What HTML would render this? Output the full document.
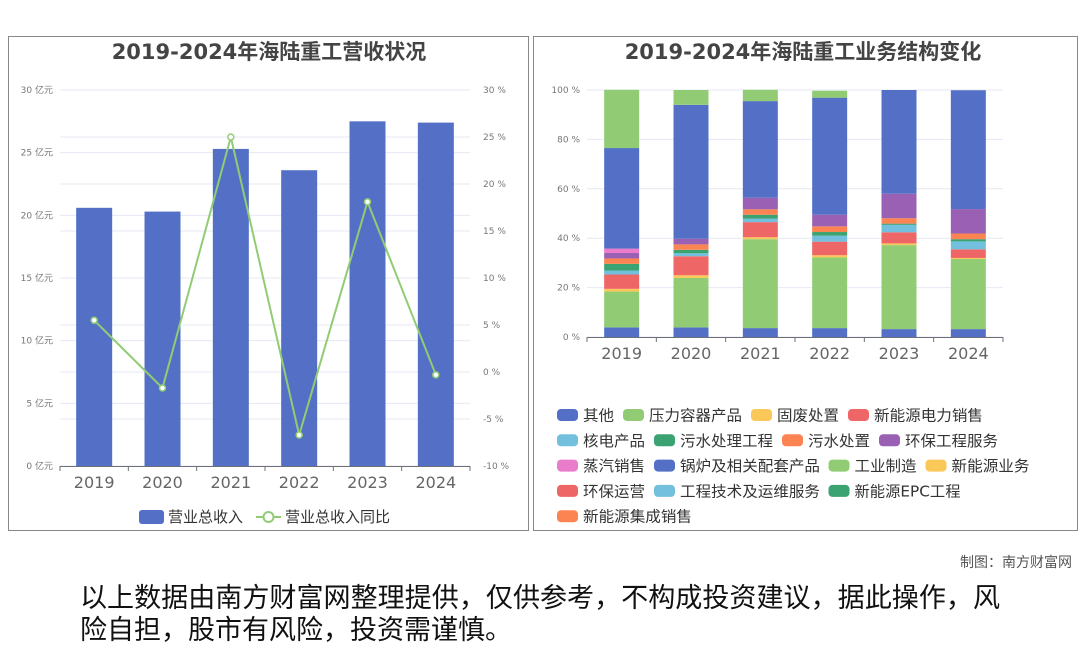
<!DOCTYPE html>
<html><head><meta charset="utf-8">
<style>
html,body{margin:0;padding:0;background:#fff;}
body{width:1080px;height:646px;overflow:hidden;font-family:"DejaVu Sans","Noto Sans CJK SC",sans-serif;}
svg text{font-family:"DejaVu Sans","Noto Sans CJK SC",sans-serif;}
</style></head>
<body>
<svg id="c" width="1080" height="646" viewBox="0 0 1080 646" xmlns="http://www.w3.org/2000/svg">
<rect x="8.5" y="36.5" width="520" height="494" fill="#fff" stroke="#888"/>
<rect x="533.5" y="36.5" width="544" height="494" fill="#fff" stroke="#888"/>
<text x="269" y="59" text-anchor="middle" font-size="21" font-weight="bold" fill="#444">2019-2024年海陆重工营收状况</text>
<text x="803" y="59" text-anchor="middle" font-size="21" font-weight="bold" fill="#444">2019-2024年海陆重工业务结构变化</text>
<g id="left"></g>
<g id="right"></g>
<text x="1072" y="567" text-anchor="end" font-size="14" fill="#555">制图：南方财富网</text>
<text x="80" y="607" font-size="27" fill="#111" textLength="920" lengthAdjust="spacingAndGlyphs">以上数据由南方财富网整理提供，仅供参考，不构成投资建议，据此操作，风</text>
<text x="80" y="639" font-size="27" fill="#111" textLength="432" lengthAdjust="spacingAndGlyphs">险自担，股市有风险，投资需谨慎。</text>
</svg>
<script>
const years=['2019','2020','2021','2022','2023','2024'];
const revenue=[20.6,20.3,25.3,23.6,27.5,27.4];
const growth=[5.5,-1.7,25.0,-6.7,18.1,-0.3];
const leftTicks=[0,5,10,15,20,25,30];
const rightTicks=[-10,-5,0,5,10,15,20,25,30];
const pctTicks=[0,20,40,60,80,100];
const seriesNames=['其他','压力容器产品','固废处置','新能源电力销售','核电产品','污水处理工程','污水处置','环保工程服务','蒸汽销售','锅炉及相关配套产品','工业制造','新能源业务','环保运营','工程技术及运维服务','新能源EPC工程','新能源集成销售'];
const s_other=[3.9,3.9,3.6,3.6,3.2,3.2];
const s_pressure=[14.5,20.0,36.0,28.6,34.0,28.4];
const s_waste=[1.1,1.1,0.8,0.9,0.7,0.4];
const s_power=[5.8,7.7,6.1,5.5,4.5,3.5];
const s_nuclear=[1.6,1.2,1.4,2.4,3.0,3.2];
const s_sewageEng=[2.7,1.4,1.6,1.5,0.5,0.9];
const s_sewage=[2.2,2.2,2.2,2.3,2.2,2.3];
const s_envService=[2.2,2.3,4.7,4.7,9.9,9.9];
const s_steam=[1.8,0,0,0,0,0];
const s_boiler=[40.7,54.2,39.1,47.4,42.0,48.1];
const s_industry=[23.6,6.0,4.6,2.8,0,0];
const s_newEnergy=[0,0,0,0,0,0];
const s_envOps=[0,0,0,0,0,0];
const s_engTech=[0,0,0,0,0,0];
const s_epc=[0,0,0,0,0,0];
const s_integ=[0,0,0,0,0,0];
const stackSeries=[s_other,s_pressure,s_waste,s_power,s_nuclear,s_sewageEng,s_sewage,s_envService,s_steam,s_boiler,s_industry,s_newEnergy,s_envOps,s_engTech,s_epc,s_integ];
const colors=['#5470c6','#91cc75','#fac858','#ee6666','#73c0de','#3ba272','#fc8452','#9a60b4','#ea7ccc','#5470c6','#91cc75','#fac858','#ee6666','#73c0de','#3ba272','#fc8452'];
const NS='http://www.w3.org/2000/svg';
function mk(p,tag,a,t){const e=document.createElementNS(NS,tag);for(const k in a)e.setAttribute(k,a[k]);if(t!==undefined)e.textContent=t;p.appendChild(e);return e;}
// left chart
const L=document.getElementById('left');
const lx0=60,lx1=470,ly0=466,ly1=90;
const bw=(lx1-lx0)/years.length;
const yL=v=>ly0-(v/30)*(ly0-ly1);
const yR=v=>ly0-((v+10)/40)*(ly0-ly1);
const xc=i=>lx0+bw*(i+0.5);
rightTicks.forEach(t=>{const g=mk(L,'line',{x1:lx0,x2:lx1,y1:yR(t),y2:yR(t),stroke:'#e6e9f4'});

const tx=mk(L,'text',{x:483,y:yR(t)+3,'font-size':9,fill:'#777'},t+' %');
});
leftTicks.forEach(t=>{const g=mk(L,'line',{x1:lx0,x2:lx1,y1:yL(t),y2:yL(t),stroke:'#e6e9f4'});

const tx=mk(L,'text',{x:53,y:yL(t)+3,'font-size':9,fill:'#777','text-anchor':'end'},t+' 亿元');
});
revenue.forEach((v,i)=>{const r=mk(L,'rect',{x:xc(i)-18,y:yL(v),width:36,height:ly0-yL(v),fill:'#5470c6'});
});
const ax=mk(L,'line',{x1:lx0,x2:lx1,y1:ly0+.5,y2:ly0+.5,stroke:'#6e7079'});

years.forEach((y,i)=>{const tk=mk(L,'line',{x1:lx0+bw*i,x2:lx0+bw*i,y1:ly0,y2:ly0+5,stroke:'#6e7079'});

const t=mk(L,'text',{x:xc(i),y:488,'font-size':16,fill:'#666','text-anchor':'middle'},y);
});
const tk2=mk(L,'line',{x1:lx1,x2:lx1,y1:ly0,y2:ly0+5,stroke:'#6e7079'});

const pl=mk(L,'polyline',{points:growth.map((v,i)=>xc(i)+','+yR(v)).join(' '),fill:'none',stroke:'#91cc75','stroke-width':2});

growth.forEach((v,i)=>{const c=mk(L,'circle',{cx:xc(i),cy:yR(v),r:3,fill:'#fff',stroke:'#91cc75','stroke-width':1.5});
});
// left legend
const lg1=mk(L,'rect',{x:139,y:510,width:25,height:14,rx:3,fill:'#5470c6'});

const lt1=mk(L,'text',{x:168,y:522,'font-size':15,fill:'#333'},'营业总收入');

const ll=mk(L,'line',{x1:256,x2:281,y1:517,y2:517,stroke:'#91cc75','stroke-width':2});

const lc=mk(L,'circle',{cx:268.5,cy:517,r:5,fill:'#fff',stroke:'#91cc75','stroke-width':2});

const lt2=mk(L,'text',{x:285,y:522,'font-size':15,fill:'#333'},'营业总收入同比');

// right chart
const R=document.getElementById('right');
const rx0=587,rx1=1003,ry0=337,ry1=90;
const rbw=(rx1-rx0)/years.length;
const yP=v=>ry0-(v/100)*(ry0-ry1);
const rxc=i=>rx0+rbw*(i+0.5);
pctTicks.forEach(t=>{const g=mk(R,'line',{x1:rx0,x2:rx1,y1:yP(t),y2:yP(t),stroke:'#e6e9f4'});

const tx=mk(R,'text',{x:580,y:yP(t)+3,'font-size':9,fill:'#777','text-anchor':'end'},t+' %');
});
years.forEach((y,i)=>{let acc=0;stackSeries.forEach((s,k)=>{const v=s[i];if(v<=0)return;
const r=mk(R,'rect',{x:rxc(i)-17.5,y:yP(acc+v),width:35,height:yP(acc)-yP(acc+v),fill:colors[k]});
acc+=v;});});
const rax=mk(R,'line',{x1:rx0,x2:rx1,y1:ry0+.5,y2:ry0+.5,stroke:'#6e7079'});

years.forEach((y,i)=>{const tk=mk(R,'line',{x1:rx0+rbw*i,x2:rx0+rbw*i,y1:ry0,y2:ry0+5,stroke:'#6e7079'});

const t=mk(R,'text',{x:rxc(i),y:359,'font-size':16,fill:'#666','text-anchor':'middle'},y);
});
const tk3=mk(R,'line',{x1:rx1,x2:rx1,y1:ry0,y2:ry0+5,stroke:'#6e7079'});

// flowing legend
let lx=557,ly=409;
seriesNames.forEach((n,k)=>{
  let tw=0;for(const ch of n)tw+=(ch.charCodeAt(0)<256?9.6:15.5);
  const w=21+5+tw;
  if(lx+w>1040){lx=557;ly+=25.3;}
  const sw=mk(R,'rect',{x:lx,y:ly,width:21,height:12,rx:4,fill:colors[k]});
  
  const t=mk(R,'text',{x:lx+26,y:ly+11.5,'font-size':15,fill:'#333',textLength:Math.round(tw),lengthAdjust:'spacingAndGlyphs'},n);
  
  lx+=w+9;
});
</script>
</body></html>
